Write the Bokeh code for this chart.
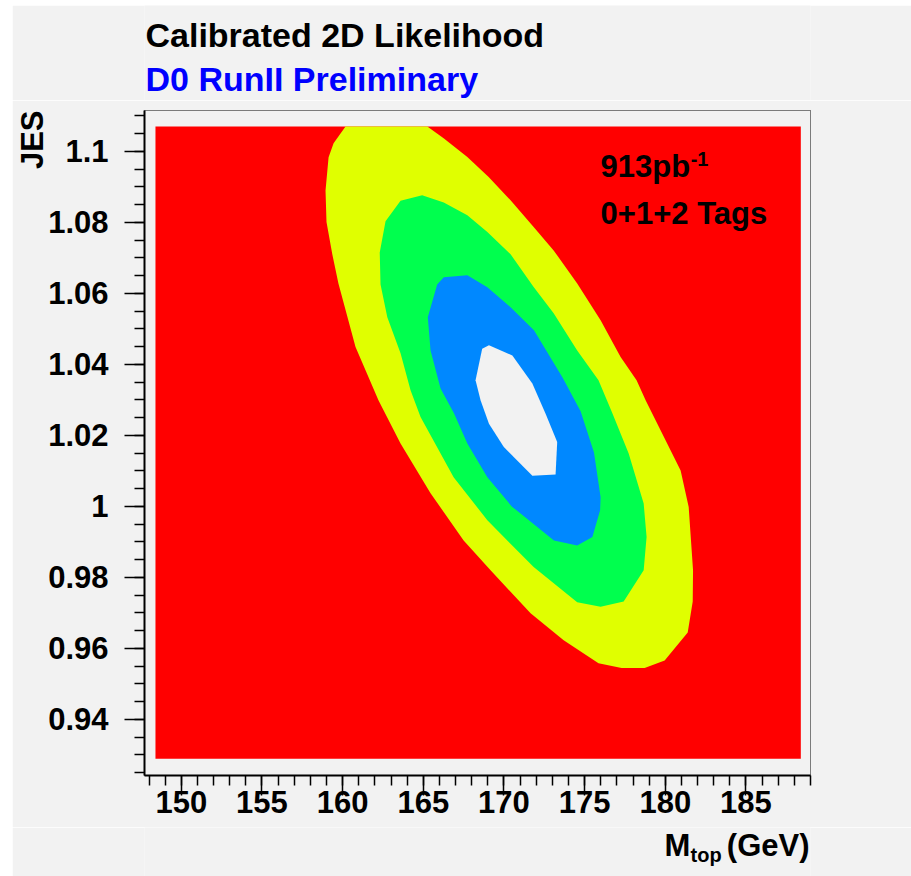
import math
from bokeh.plotting import figure
from bokeh.layouts import row, column
from bokeh.models import Range1d, Label, Title, FixedTicker, CustomJSTickFormatter, Spacer
from bokeh.embed import file_html
from bokeh.resources import INLINE

# ---------------- data ----------------
mtop_axis = [147.72, 189.0]          # axis range (bin edges)
jes_axis = [0.9242, 1.1115]
mtop_fill = [148.4, 188.4]           # first / last bin centre -> coloured area
jes_fill = [0.9289, 1.1070]

x_ticks = [150, 155, 160, 165, 170, 175, 180, 185]
x_tick_labels = ["150", "155", "160", "165", "170", "175", "180", "185"]
x_minor = [148, 149, 150, 151, 152, 153, 154, 155, 156, 157, 158, 159, 160, 161, 162, 163, 164,
           165, 166, 167, 168, 169, 170, 171, 172, 173, 174, 175, 176, 177, 178, 179, 180, 181,
           182, 183, 184, 185, 186, 187, 188, 189]
y_ticks = [0.94, 0.96, 0.98, 1.0, 1.02, 1.04, 1.06, 1.08, 1.1]
y_tick_labels = ["0.94", "0.96", "0.98", "1", "1.02", "1.04", "1.06", "1.08", "1.1"]
y_minor = [0.925, 0.93, 0.935, 0.94, 0.945, 0.95, 0.955, 0.96, 0.965, 0.97, 0.975, 0.98, 0.985,
           0.99, 0.995, 1.0, 1.005, 1.01, 1.015, 1.02, 1.025, 1.03, 1.035, 1.04, 1.045, 1.05,
           1.055, 1.06, 1.065, 1.07, 1.075, 1.08, 1.085, 1.09, 1.095, 1.1, 1.105, 1.11]

# contour level boundaries (outer -> inner)
c1_mtop = [160.18, 159.44, 159.13, 158.94, 159.00, 159.36, 159.74, 160.80, 162.22, 163.59, 165.45,
           167.50, 169.17, 171.65, 173.70, 175.86, 177.29, 178.72, 179.96, 181.39, 181.70, 181.72,
           181.45, 180.95, 178.78, 178.22, 177.23, 175.99, 174.54, 173.08, 171.84, 170.41, 169.05,
           167.73, 166.26, 165.25]
c1_jes = [1.1070, 1.1023, 1.0983, 1.0890, 1.0801, 1.0710, 1.0628, 1.0449, 1.0299, 1.0177, 1.0037,
          0.9904, 0.9820, 0.9699, 0.9623, 0.9558, 0.9545, 0.9545, 0.9566, 0.9645, 0.9732, 0.9820,
          0.9998, 1.0101, 1.0299, 1.0355, 1.0421, 1.0524, 1.0628, 1.0721, 1.0787, 1.0862, 1.0928,
          1.0984, 1.1037, 1.1070]

c2_mtop = [164.93, 163.59, 162.66, 162.30, 162.35, 162.77, 163.59, 164.21, 164.83, 166.88, 168.97,
           171.84, 174.54, 175.99, 177.42, 178.66, 178.84, 178.66, 177.73, 176.72, 175.86, 174.54,
           173.08, 171.84, 170.41, 168.97, 167.73, 166.27]
c2_jes = [1.0876, 1.0861, 1.0803, 1.0715, 1.0625, 1.0533, 1.0431, 1.0327, 1.0252, 1.0082, 0.9961,
          0.9829, 0.9730, 0.9717, 0.9732, 0.9820, 0.9914, 1.0008, 1.0149, 1.0262, 1.0355, 1.0439,
          1.0544, 1.0618, 1.0710, 1.0773, 1.0820, 1.0856]

c3_mtop = [167.73, 166.27, 165.86, 165.28, 165.45, 166.07, 166.90, 167.73, 168.97, 170.48, 173.10,
           174.54, 175.48, 175.96, 175.99, 175.58, 174.75, 173.63, 171.86, 170.41, 168.97]
c3_jes = [1.0651, 1.0645, 1.0625, 1.0533, 1.0439, 1.0332, 1.0262, 1.0177, 1.0082, 1.0000, 0.9904,
          0.9890, 0.9914, 0.9989, 1.0026, 1.0152, 1.0268, 1.0363, 1.0496, 1.0561, 1.0617]

c4_mtop = [169.07, 168.65, 168.24, 168.55, 169.07, 169.99, 171.76, 173.20, 173.30, 172.58, 171.76,
           170.52]
c4_jes = [1.0454, 1.0444, 1.0355, 1.0299, 1.0233, 1.0167, 1.0086, 1.0090, 1.0181, 1.0261, 1.0346,
          1.0425]

FONT = "Liberation Sans"
BG = "#f2f2f2"

# ---------------- main plot ----------------
p = figure(width=899, height=727,
           x_range=Range1d(mtop_axis[0], mtop_axis[1]),
           y_range=Range1d(jes_axis[0], jes_axis[1]),
           output_backend="svg", toolbar_location=None,
           min_border_left=132, min_border_right=101,
           min_border_top=10, min_border_bottom=52)
p.title.visible = False
p.background_fill_color = BG
p.border_fill_color = BG
p.grid.visible = False
p.outline_line_color = "black"
p.outline_line_width = 1
p.outline_line_dash = "1 1"

p.quad(left=[mtop_fill[0]], right=[mtop_fill[1]], bottom=[jes_fill[0]], top=[jes_fill[1]],
       fill_color="#ff0000", line_color=None)
p.patch(c1_mtop, c1_jes, fill_color="#e0ff00", line_color=None)
p.patch(c2_mtop, c2_jes, fill_color="#00ff4e", line_color=None)
p.patch(c3_mtop, c3_jes, fill_color="#0088ff", line_color=None)
p.patch(c4_mtop, c4_jes, fill_color=BG, line_color=None)

for ax in (p.xaxis[0], p.yaxis[0]):
    ax.axis_line_color = "black"
    ax.axis_line_width = 2
    ax.major_tick_line_color = "black"
    ax.minor_tick_line_color = "black"
    ax.major_tick_line_width = 1.5
    ax.minor_tick_line_width = 1.5
    ax.major_tick_in = 0
    ax.major_tick_out = 20
    ax.minor_tick_in = 0
    ax.minor_tick_out = 10
    ax.major_label_text_font = FONT
    ax.major_label_text_font_style = "bold"
    ax.major_label_text_font_size = "31px"
    ax.major_label_text_color = "black"

p.xaxis.ticker = FixedTicker(ticks=x_ticks, minor_ticks=x_minor)
p.yaxis.ticker = FixedTicker(ticks=y_ticks, minor_ticks=y_minor)
fmt_code = """
for (let i = 0; i < tv.length; i++) { if (Math.abs(tv[i] - tick) < 1e-6) return tl[i]; }
return "";
"""
p.xaxis.formatter = CustomJSTickFormatter(args=dict(tv=x_ticks, tl=x_tick_labels), code=fmt_code)
p.yaxis.formatter = CustomJSTickFormatter(args=dict(tv=y_ticks, tl=y_tick_labels), code=fmt_code)
p.xaxis.major_label_standoff = -5
p.yaxis.major_label_standoff = 16

# y-axis title, placed at the top end of the axis
p.add_layout(Title(text="JES", align="right", vertical_align="bottom", standoff=-9, offset=0,
                   text_font=FONT, text_font_style="bold", text_font_size="31px",
                   text_color="black"), "left")


def lab(fig, x, y, text, size="31px", color="black", align="left", angle=0.0):
    fig.add_layout(Label(x=x, y=y, text=text, text_font=FONT, text_font_style="bold",
                         text_font_size=size, text_color=color, text_align=align,
                         text_baseline="alphabetic", angle=angle))


lab(p, 175.99, 1.0958, "913pb")
lab(p, 181.57, 1.0978, "-1", size="20px")
lab(p, 175.99, 1.0825, "0+1+2 Tags")


# ---------------- text strips above / below the plot ----------------
# (their frames line up with the main frame: x = pixels from the frame's left edge, y up)
def strip(h):
    f = figure(width=899, height=h, x_range=Range1d(0, 666), y_range=Range1d(0, h),
               output_backend="svg", toolbar_location=None, min_border=0,
               x_axis_location=None, y_axis_location=None)
    f.title.visible = False
    f.background_fill_color = BG
    f.border_fill_color = BG
    f.outline_line_color = None
    f.grid.visible = False
    return f


top = strip(95)
lab(top, 1, 66, "Calibrated 2D Likelihood", size="34px")
lab(top, 1, 22, "D0 RunII Preliminary", size="34px", color="#0000ff")

bottom = strip(49)
lab(bottom, 520, 31, "M")
lab(bottom, 546, 22, "top", size="20px")
lab(bottom, 665, 31, "(GeV)", align="right")

layout = row(Spacer(width=12, height=876),
             column(Spacer(width=899, height=5), top, p, bottom))

open("out.html", "w").write(file_html(layout, INLINE))
